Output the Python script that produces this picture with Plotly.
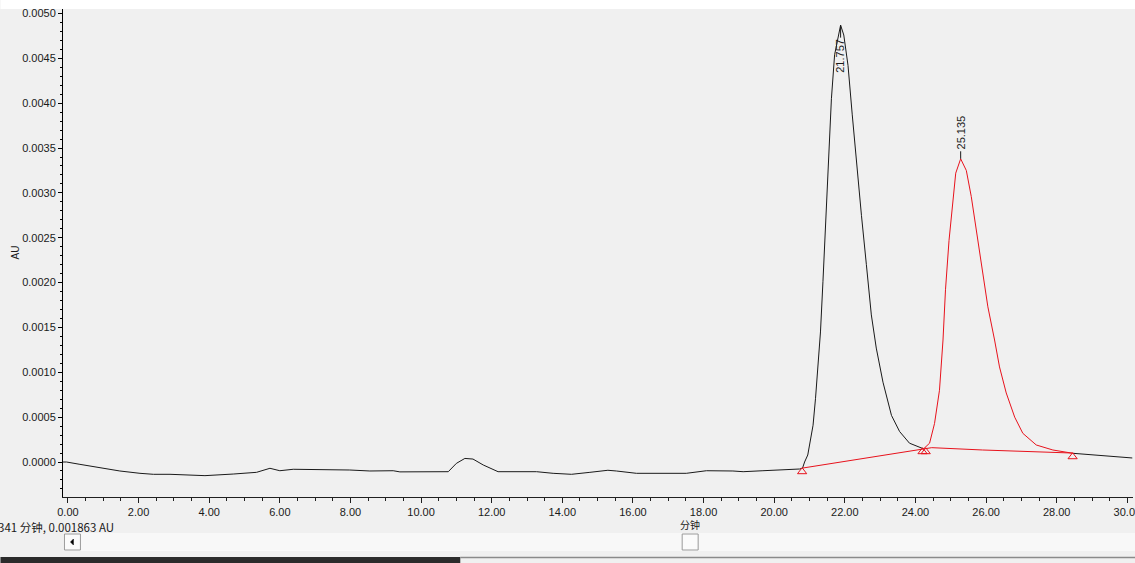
import plotly.graph_objects as go

# ---------------- data ----------------
# main (black) trace, minutes / AU ; None separates the segment hidden by the red peak
black_time = [-0.14, -0.04, 0.34, 0.91, 1.47, 2.04, 2.42, 2.89, 3.88, 4.68, 5.34, 5.72, 6.00,
              6.38, 7.79, 7.98, 8.55, 9.21, 9.40, 10.25, 10.77, 11.00, 11.24, 11.47, 11.76,
              12.18, 12.51, 13.27, 13.74, 14.26, 14.78, 15.29, 15.53, 16.10, 17.51, 18.08,
              18.83, 19.12, 19.68, 20.25, 20.72, 20.80, 20.86, 20.95, 21.02, 21.10, 21.17,
              21.24, 21.31, 21.38, 21.46, 21.54, 21.62, 21.71, 21.81, 21.88, 21.97, 22.09,
              22.21, 22.33, 22.47, 22.61, 22.75, 22.89, 23.08, 23.32, 23.55, 23.83, 24.21,
              None, 28.46, 29.49, 30.14]
black_au = [0.0000, 0.0000, -0.000026, -0.000063, -0.000100, -0.000126, -0.000137, -0.000137,
            -0.000152, -0.000134, -0.000115, -0.000070, -0.000097, -0.000081, -0.000081,
            -0.000089, -0.000100, -0.000097, -0.000110, -0.000108, -0.000108, -0.000015,
            0.000040, 0.000033, -0.000033, -0.000108, -0.000108, -0.000108, -0.000126,
            -0.000137, -0.000115, -0.000092, -0.000100, -0.000126, -0.000126, -0.000097,
            -0.000100, -0.000108, -0.000097, -0.000089, -0.000078, -0.000070, 0.000000,
            0.000078, 0.000226, 0.000410, 0.000710, 0.001080, 0.001450, 0.002010, 0.002750,
            0.003500, 0.004050, 0.004540, 0.004760, 0.004870, 0.004760, 0.004420, 0.003870,
            0.003310, 0.002750, 0.002200, 0.001640, 0.001270, 0.000890, 0.000520, 0.000340,
            0.000210, 0.000150, None, 0.000097, 0.000060, 0.000045]

# second (red) peak
red_time = [24.21, 24.40, 24.54, 24.68, 24.78, 24.85, 24.95, 25.04, 25.14, 25.28, 25.44,
            25.58, 25.72, 25.89, 26.05, 26.24, 26.38, 26.57, 26.81, 27.04, 27.42, 27.89, 28.46]
red_au = [0.000140, 0.000210, 0.000430, 0.000800, 0.001360, 0.001920, 0.002470, 0.002850,
          0.003220, 0.003380, 0.003250, 0.002960, 0.002590, 0.002100, 0.001730, 0.001360,
          0.001060, 0.000770, 0.000500, 0.000320, 0.000190, 0.000134, 0.000097]

# integration baseline
base_time = [20.81, 24.20, 24.46, 25.90, 28.45]
base_au = [-0.000067, 0.000145, 0.000160, 0.000134, 0.000100]

# peak start / end markers
mark_time = [20.79, 24.20, 24.29, 28.45]
mark_au = [-0.000108, 0.000115, 0.000115, 0.000059]

# peak labels
peak_labels = ["21.757", "25.135"]
peak_time = [21.88, 25.28]
peak_au = [0.004870, 0.003380]

x_tick_step = 2
y_tick_step = 0.0005

BG = "#f0f0f0"
FONT = "Liberation Sans, Arial, sans-serif"
CJK = "Noto Sans CJK SC, sans-serif"

# page geometry
FIG_W = 1143
FIG_H = 563
S = FIG_W / 1135.0
ML, MR, MT, MB = 63, 2, 9, 66
PW = FIG_W - ML - MR
PH = FIG_H - MT - MB

fig = go.Figure()
fig.add_trace(go.Scatter(x=black_time, y=black_au, mode="lines",
                         line=dict(color="#1a1a1a", width=1), connectgaps=False,
                         hoverinfo="skip"))
fig.add_trace(go.Scatter(x=base_time, y=base_au, mode="lines",
                         line=dict(color="#e8121c", width=1), hoverinfo="skip"))
fig.add_trace(go.Scatter(x=red_time, y=red_au, mode="lines",
                         line=dict(color="#e8121c", width=1), hoverinfo="skip"))
fig.add_trace(go.Scatter(x=mark_time, y=mark_au, mode="markers",
                         marker=dict(symbol="triangle-up-open", size=8, color="#e8121c",
                                     line=dict(width=1, color="#e8121c")),
                         hoverinfo="skip"))

# peak retention time labels (rotated)
offsets = [31, -26]
for lab, t, a, ay in zip(peak_labels, peak_time, peak_au, offsets):
    fig.add_annotation(x=t, y=a, xref="x", yref="y", text=lab, textangle=-90,
                       showarrow=True, arrowhead=0, arrowwidth=1, arrowcolor="#1a1a1a",
                       ax=0, ay=ay, standoff=0,
                       font=dict(family=FONT, size=11, color="#1a1a1a"))


def px(x):
    return (x * S - ML) / PW


def py(y):
    return (FIG_H - MB - y) / PH


shapes = [
    # white strip above plot area
    dict(type="rect", xref="paper", yref="paper", x0=px(0), x1=px(1135), y0=1, y1=py(0),
         fillcolor="white", line=dict(width=0), layer="below"),
    # scrollbar track
    dict(type="rect", xref="paper", yref="paper", x0=px(63), x1=px(1135), y0=py(533),
         y1=py(551), fillcolor="#f8f8f8", line=dict(width=0)),
    # left arrow button
    dict(type="rect", xref="paper", yref="paper", x0=px(64), x1=px(80), y0=py(534),
         y1=py(550), fillcolor="#fbfbfb", line=dict(width=1, color="#9a9a9a")),
    # arrow glyph in button
    dict(type="path", xref="paper", yref="paper",
         path="M {} {} L {} {} L {} {} Z".format(px(70), py(542), px(73), py(539),
                                                 px(73), py(545)),
         fillcolor="black", line=dict(width=0.5, color="black")),
    # thumb
    dict(type="rect", xref="paper", yref="paper", x0=px(682), x1=px(698), y0=py(534),
         y1=py(550), fillcolor="#fbfbfb", line=dict(width=1, color="#9a9a9a")),
    # bottom dark band and line
    dict(type="rect", xref="paper", yref="paper", x0=px(0), x1=px(460), y0=py(563),
         y1=py(557), fillcolor="#2b2b2b", line=dict(width=0)),
    dict(type="line", xref="paper", yref="paper", x0=px(460), x1=px(1135), y0=py(557.5),
         y1=py(557.5), line=dict(width=1.5, color="#8a8a8a")),
]
# status text
fig.add_annotation(x=px(-4), y=py(527), xref="paper", yref="paper", xanchor="left",
                   yanchor="middle", text="341 分钟, 0.001863 AU", showarrow=False,
                   font=dict(family=CJK, size=11.5, color="#1a1a1a"))
# x axis title
fig.add_annotation(x=px(690), y=py(524), xref="paper", yref="paper", text="分钟",
                   xanchor="center", yanchor="middle", showarrow=False,
                   font=dict(family=CJK, size=10, color="#1a1a1a"))
# y axis title
fig.add_annotation(x=px(15), y=py(252), xref="paper", yref="paper", text="AU",
                   xanchor="center", yanchor="middle", textangle=-90, showarrow=False,
                   font=dict(family=FONT, size=10, color="#1a1a1a"))

fig.update_layout(
    width=FIG_W, height=FIG_H, autosize=False,
    margin=dict(l=ML, r=MR, t=MT, b=MB),
    paper_bgcolor=BG, plot_bgcolor=BG,
    showlegend=False,
    shapes=shapes,
    font=dict(family=FONT, size=11, color="#1a1a1a"),
)
fig.update_xaxes(range=[-0.14, 30.16], tick0=0, dtick=x_tick_step, tickformat=".2f",
                 showgrid=False, zeroline=False, showline=True, linecolor="#202020",
                 linewidth=1, ticks="outside", ticklen=5, tickcolor="#202020",
                 ticklabeloverflow="allow",
                 minor=dict(dtick=0.5, ticks="outside", ticklen=3, tickcolor="#202020",
                            showgrid=False),
                 tickfont=dict(family=FONT, size=11, color="#1a1a1a"))
fig.update_yaxes(range=[-0.00039, 0.00505], tick0=0, dtick=y_tick_step, tickformat=".4f",
                 showgrid=False, zeroline=False, showline=True, linecolor="black",
                 linewidth=1, ticks="outside", ticklen=4, tickcolor="black",
                 ticklabeloverflow="allow",
                 minor=dict(dtick=0.0001, ticks="outside", ticklen=2, tickcolor="black",
                            showgrid=False),
                 tickfont=dict(family=FONT, size=11, color="#1a1a1a"))

fig.write_html("out.html", config={"displayModeBar": False, "responsive": False},
               post_script="document.documentElement.style.overflow='hidden';"
                           "document.body.style.margin='0';"
                           "document.body.style.overflow='hidden';")
